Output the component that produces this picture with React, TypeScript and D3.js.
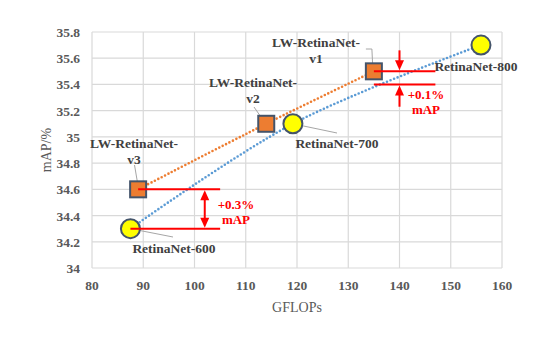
import React from "react";
import * as d3 from "d3";

const retinaNet = [
  { name: "RetinaNet-600", gflops: 87.5, map: 34.3 },
  { name: "RetinaNet-700", gflops: 119.2, map: 35.1 },
  { name: "RetinaNet-800", gflops: 155.9, map: 35.7 },
];

const lwRetinaNet = [
  { name: "v3", gflops: 89, map: 34.6 },
  { name: "v2", gflops: 114, map: 35.1 },
  { name: "v1", gflops: 135, map: 35.5 },
];

const xTicks = [80, 90, 100, 110, 120, 130, 140, 150, 160];
const yTicks = [34, 34.2, 34.4, 34.6, 34.8, 35, 35.2, 35.4, 35.6, 35.8];

const W = 545;
const H = 348;
const margin = { left: 92, right: 43, top: 32, bottom: 80 };

const x = d3.scaleLinear().domain([80, 160]).range([margin.left, W - margin.right]);
const y = d3.scaleLinear().domain([34, 35.8]).range([H - margin.bottom, margin.top]);

const line = d3
  .line<{ gflops: number; map: number }>()
  .x((d) => x(d.gflops))
  .y((d) => y(d.map))
  .curve(d3.curveCatmullRom);

const RED = "#FF0000";
const TXT = "#404040";
const FONT = "'Liberation Serif', 'Times New Roman', serif";

const Arrow = ({ cx, y0, y1 }) => {
  // arrowhead at y1, shaft from y0
  const dir = y1 > y0 ? 1 : -1;
  return (
    <g>
      <line x1={cx} x2={cx} y1={y0} y2={y1 - dir * 8} stroke={RED} strokeWidth={2} />
      <path d={`M${cx - 4.5},${y1 - dir * 10} L${cx + 4.5},${y1 - dir * 10} L${cx},${y1} Z`} fill={RED} />
    </g>
  );
};

const Label = ({ lines, cx, cy }) => (
  <text x={cx} y={cy} textAnchor="middle" fontFamily={FONT} fontWeight="bold" fontSize={13.5} fill={TXT}>
    {lines.map((l, i) => (
      <tspan key={i} x={cx} dy={i === 0 ? 0 : 15.5}>
        {l}
      </tspan>
    ))}
  </text>
);

const App = () => {
  const lowY0 = y(34.6);
  const lowY1 = y(34.3);
  const topY0 = y(35.5);
  const topY1 = y(35.4);
  return (
    <svg width={W} height={H} style={{ position: "absolute", left: 0, top: 0, background: "#fff" }}>
      {/* grid */}
      {xTicks.map((t) => (
        <line key={"gx" + t} x1={x(t)} x2={x(t)} y1={y(34)} y2={y(35.8)} stroke="#D9D9D9" strokeWidth={1.2} />
      ))}
      {yTicks.map((t) => (
        <line key={"gy" + t} x1={x(80)} x2={x(160)} y1={y(t)} y2={y(t)} stroke="#D9D9D9" strokeWidth={1.2} />
      ))}
      {/* tick labels */}
      {xTicks.map((t) => (
        <text key={"tx" + t} x={x(t)} y={y(34) + 22} textAnchor="middle" fontFamily={FONT} fontWeight="bold" fontSize={13.5} fill="#595959">
          {t}
        </text>
      ))}
      {yTicks.map((t) => (
        <text key={"ty" + t} x={x(80) - 12} y={y(t) + 5} textAnchor="end" fontFamily={FONT} fontWeight="bold" fontSize={13.5} fill="#595959">
          {d3.format("~g")(t)}
        </text>
      ))}
      <text x={(x(80) + x(160)) / 2} y={y(34) + 44} textAnchor="middle" fontFamily={FONT} fontSize={14} fill="#595959">
        GFLOPs
      </text>
      <text transform={`translate(51, ${(y(34) + y(35.8)) / 2}) rotate(-90)`} textAnchor="middle" fontFamily={FONT} fontSize={14} fill="#595959">
        mAP/%
      </text>

      {/* trend lines */}
      <path d={line(lwRetinaNet)} fill="none" stroke="#ED7D31" strokeWidth={2.6} strokeDasharray="0 3.8" strokeLinecap="round" />
      <path d={line(retinaNet)} fill="none" stroke="#5B9BD5" strokeWidth={2.6} strokeDasharray="0 3.8" strokeLinecap="round" />

      {/* leader lines */}
      <g stroke="#A6A6A6" strokeWidth={1} fill="none">
        <polyline points={`${x(135) - 8},49 ${x(135) - 2},49 ${x(135) - 1},${y(35.5) - 2}`} />
        <line x1={254} y1={107} x2={x(114) - 2} y2={y(35.1) - 2} />
        <line x1={134.5} y1={165} x2={x(89)} y2={y(34.6) - 3} />
        <line x1={x(87.5)} y1={y(34.3)} x2={173} y2={237} />
        <line x1={x(119.2)} y1={y(35.1)} x2={337} y2={133} />
        <line x1={x(155.9)} y1={y(35.7)} x2={476} y2={55} />
      </g>

      {/* markers */}
      {lwRetinaNet.map((d) => (
        <rect key={d.name} x={x(d.gflops) - 8} y={y(d.map) - 8} width={16} height={16} fill="#ED7D31" stroke="#44546A" strokeWidth={2} />
      ))}
      {retinaNet.map((d) => (
        <circle key={d.name} cx={x(d.gflops)} cy={y(d.map)} r={9.5} fill="#FFFF00" stroke="#44546A" strokeWidth={2} />
      ))}

      {/* red comparison lines */}
      <line x1={x(89)} x2={x(105)} y1={lowY0} y2={lowY0} stroke={RED} strokeWidth={2} />
      <line x1={x(87.5)} x2={x(105)} y1={lowY1} y2={lowY1} stroke={RED} strokeWidth={2} />
      <Arrow cx={x(102)} y0={(lowY0 + lowY1) / 2} y1={lowY0 + 1} />
      <Arrow cx={x(102)} y0={(lowY0 + lowY1) / 2} y1={lowY1 - 1} />
      <text x={236} y={209} textAnchor="middle" fontFamily={FONT} fontWeight="bold" fontSize={13} fill={RED}>
        +0.3%
      </text>
      <text x={236} y={224} textAnchor="middle" fontFamily={FONT} fontWeight="bold" fontSize={13} fill={RED}>
        mAP
      </text>

      <line x1={x(135)} x2={x(147)} y1={topY0} y2={topY0} stroke={RED} strokeWidth={2} />
      <line x1={x(135)} x2={x(147)} y1={topY1} y2={topY1} stroke={RED} strokeWidth={2} />
      <Arrow cx={x(140)} y0={y(35.66)} y1={topY0 - 1} />
      <Arrow cx={x(140)} y0={y(35.23)} y1={topY1 + 1} />
      <text x={426} y={99} textAnchor="middle" fontFamily={FONT} fontWeight="bold" fontSize={13} fill={RED}>
        +0.1%
      </text>
      <text x={426} y={114} textAnchor="middle" fontFamily={FONT} fontWeight="bold" fontSize={13} fill={RED}>
        mAP
      </text>

      {/* labels */}
      <Label lines={["LW-RetinaNet-", "v1"]} cx={316} cy={47} />
      <Label lines={["LW-RetinaNet-", "v2"]} cx={253} cy={87} />
      <Label lines={["LW-RetinaNet-", "v3"]} cx={134} cy={148} />
      <Label lines={["RetinaNet-600"]} cx={174} cy={253} />
      <Label lines={["RetinaNet-700"]} cx={337} cy={148} />
      <Label lines={["RetinaNet-800"]} cx={476} cy={71} />
    </svg>
  );
};

export default App;
